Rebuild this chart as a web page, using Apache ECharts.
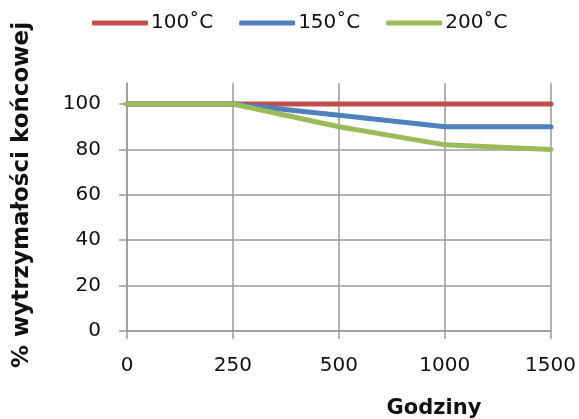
<!DOCTYPE html>
<html>
<head>
<meta charset="utf-8">
<script src="https://cdn.jsdelivr.net/npm/echarts@6/dist/echarts.min.js"></script>
<style>html,body{margin:0;padding:0;background:#fff;}#c{width:579px;height:419px;}</style>
</head>
<body>
<div id="c"></div>
<script>
const categories = ['0', '250', '500', '1000', '1500'];
const seriesNames = ['100˚C', '150˚C', '200˚C'];
const s100 = [100, 100, 100, 100, 100];
const s150 = [100, 100, 95, 90, 90];
const s200 = [100, 100, 90, 82, 80];
const yMin = 0, yMax = 100, yStep = 20;
const yTitle = '% wytrzymałości końcowej';
const xTitle = 'Godziny';
const colors = ['#C0504D', '#4F81BD', '#9BBB59'];

const chart = echarts.init(document.getElementById('c'), null, {renderer: 'canvas'});
const font = 'DejaVu Sans';
const gridColor = '#9a9a9a';
const mk = (name, data, color) => ({
  name, type: 'line', data, showSymbol: false, symbol: 'none',
  xAxisIndex: 1, yAxisIndex: 1, clip: false,
  lineStyle: {width: 5, color, cap: 'round', join: 'round'},
  itemStyle: {color}
});
chart.setOption({
  animation: false,
  color: colors,
  textStyle: {fontFamily: font},
  legend: {
    left: 92, top: 13, padding: 0, itemWidth: 56, itemHeight: 5, itemGap: 26,
    icon: 'roundRect',
    textStyle: {fontFamily: font, fontSize: 20, color: '#111', padding: [0, 0, 0, -2]},
    data: seriesNames
  },
  grid: [
    {left: 127, right: 28, top: 83, bottom: 88, containLabel: false},
    {left: 127, right: 28, top: 104, bottom: 88, containLabel: false}
  ],
  xAxis: [{
    gridIndex: 0, type: 'category', data: categories, boundaryGap: false,
    axisLine: {lineStyle: {color: gridColor, width: 1.5}},
    axisTick: {show: true, length: 8, lineStyle: {color: gridColor, width: 1.5}},
    axisLabel: {fontFamily: font, fontSize: 20, color: '#111', margin: 25},
    splitLine: {show: true, lineStyle: {color: gridColor, width: 1.5}}
  }, {
    gridIndex: 1, type: 'category', data: categories, boundaryGap: false, show: false
  }],
  yAxis: [{
    gridIndex: 0, type: 'value', min: 0, max: 110,
    axisLine: {show: true, lineStyle: {color: gridColor, width: 1.5}},
    axisTick: {show: false}, axisLabel: {show: false}, splitLine: {show: false}
  }, {
    gridIndex: 1, type: 'value', min: yMin, max: yMax, interval: yStep,
    axisLine: {show: false},
    axisTick: {show: true, length: 8, lineStyle: {color: gridColor, width: 1.5}},
    axisLabel: {fontFamily: font, fontSize: 20, color: '#111', margin: 26},
    splitLine: {show: true, lineStyle: {color: gridColor, width: 1.5}}
  }],
  graphic: [
    {type: 'text', x: 22, y: 195, rotation: Math.PI / 2,
     style: {text: yTitle, font: 'bold 23px "DejaVu Sans"', fill: '#111', align: 'center', verticalAlign: 'middle'}},
    {type: 'text', x: 434, y: 409,
     style: {text: xTitle, font: 'bold 21px "DejaVu Sans"', fill: '#111', align: 'center', verticalAlign: 'middle'}}
  ],
  series: [mk(seriesNames[0], s100, colors[0]), mk(seriesNames[1], s150, colors[1]), mk(seriesNames[2], s200, colors[2])]
});
</script>
</body>
</html>
